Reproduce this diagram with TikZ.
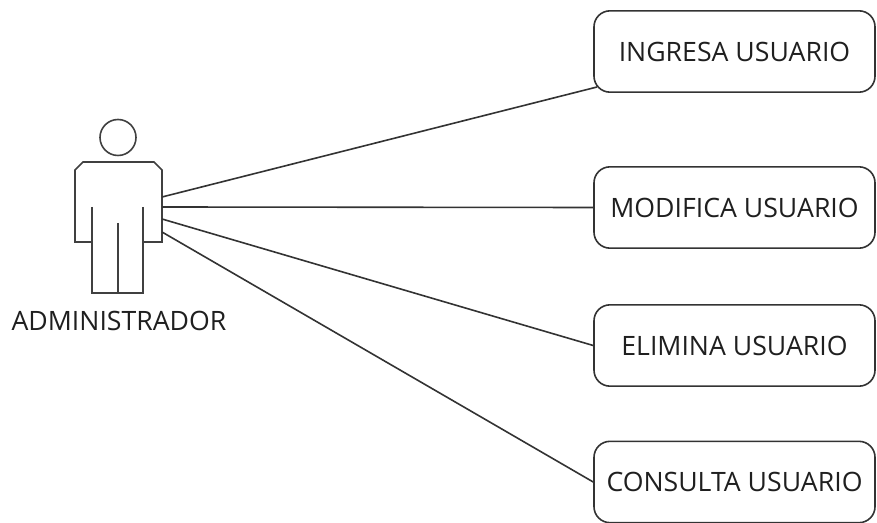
\documentclass[tikz,border=0pt]{standalone}
\usepackage{fontspec}
\setmainfont{Open Sans}
\begin{document}
\begin{tikzpicture}[x=0.75pt,y=-0.75pt,
  ucbox/.style={draw=black!80, line width=1.2pt, rounded corners=12pt, minimum width=210.75pt, minimum height=61pt, inner sep=0pt, font=\fontsize{20}{24}\selectfont, text=black!88},
  actorline/.style={draw=black!75, line width=1.2pt},
  conn/.style={draw=black!80, line width=1.2pt}]
\useasboundingbox (0,0) rectangle (877,523);
% use case boxes
\node[ucbox] (b1) at (734.5,51.5) {INGRESA USUARIO};
\node[ucbox] (b2) at (734.5,207.5) {MODIFICA USUARIO};
\node[ucbox] (b3) at (734.5,345.5) {ELIMINA USUARIO};
\node[ucbox] (b4) at (734.5,482) {CONSULTA USUARIO};
% actor
\draw[actorline] (118,137.5) circle (18);
\draw[actorline] (75,170) -- (83,162) -- (154,162) -- (162,170) -- (162,242) -- (143,242) -- (143,293) -- (92,293) -- (92,242) -- (75,242) -- cycle;
\draw[actorline] (92,207) -- (92,242);
\draw[actorline] (143,207) -- (143,242);
\draw[actorline] (118,223) -- (118,293);
\node[font=\fontsize{20}{24}\selectfont, text=black!88] (actor) at (119,321) {ADMINISTRADOR};
% connector anchors
\coordinate (a1) at (162,197);
\coordinate (a2) at (162,207);
\coordinate (a3) at (162,219);
\coordinate (a4) at (162,232);
\coordinate (e1) at (597,87);
\draw[conn] (a1) -- (e1);
\draw[conn] (a2) -- (b2.west);
\draw[conn] (a3) -- (b3.west);
\draw[conn] (a4) -- (b4.west);
\end{tikzpicture}
\end{document}
